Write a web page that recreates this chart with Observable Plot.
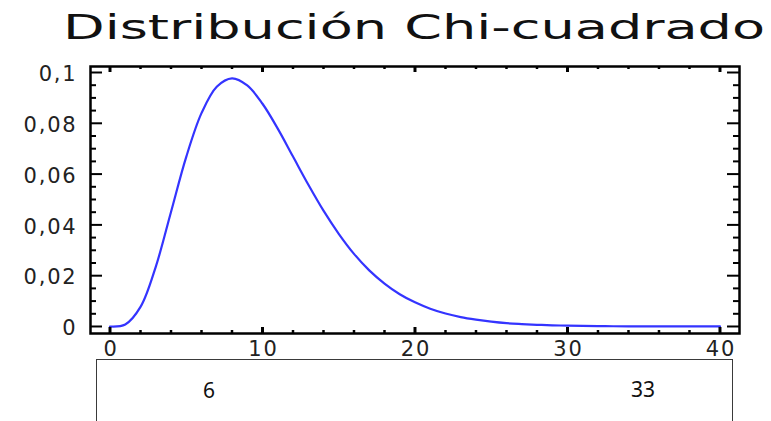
<!DOCTYPE html>
<html>
<head>
<meta charset="utf-8">
<script src="https://cdn.jsdelivr.net/npm/d3@7"></script>
<script src="https://cdn.jsdelivr.net/npm/@observablehq/plot@0.6"></script>
<style>
  html, body { margin: 0; padding: 0; background: #fff; }
  #wrap { position: relative; width: 771px; height: 421px; overflow: hidden; background: #fff; }
  #title { display: block; }
  #box { position: absolute; left: 96px; top: 359px; width: 637px; height: 80px;
         border: 1.5px solid #3a3a3a; border-bottom: none; box-sizing: border-box; }
  .cell { position: absolute; font-family: "Noto Sans", "Open Sans", sans-serif; font-size: 21px;
          color: #111; transform: translate(-50%, -50%); line-height: 1; }
</style>
</head>
<body>
<div id="wrap">
  <svg id="title" width="771" height="60"></svg>
  <div id="chart"></div>
  <div id="box"></div>
</div>
<script>
// ---- data ----
const titleText = "Distribución Chi-cuadrado";
const xValues = [0,1,2,3,4,5,6,7,8,9,10,11,12,13,14,15,16,17,18,19,20,21,22,23,24,25,26,27,28,29,30,31,32,33,34,35,36,37,38,39,40];
const density = [0,0.0008,0.0077,0.0235,0.0451,0.0668,0.0840,0.0944,0.0977,0.0949,0.0877,0.0779,0.0669,0.0559,0.0456,0.0365,0.0286,0.0221,0.0169,0.0127,0.0095,0.0070,0.0051,0.0037,0.0027,0.0019,0.0013,0.00095,0.00067,0.00046,0.00032,0.00022,0.00015,0.0001,0.00007,0.00005,0.00003,0.00002,0.00001,0.00001,0.00001];
const xMajorTicks = [0, 10, 20, 30, 40];
const xMinorTicks = [2,4,6,8,12,14,16,18,22,24,26,28,32,34,36,38];
const yMajorTicks = [0, 0.02, 0.04, 0.06, 0.08, 0.1];
const yMinorTicks = [0.005,0.01,0.015,0.025,0.03,0.035,0.045,0.05,0.055,0.065,0.07,0.075,0.085,0.09,0.095];
const boxLabels = ["6", "33"];

// ---- title ----
const ts = d3.select("#title");
ts.append("text")
  .attr("x", 63).attr("y", 39)
  .attr("textLength", 702).attr("lengthAdjust", "spacingAndGlyphs")
  .attr("font-family", "DejaVu Sans").attr("font-size", 34).attr("fill", "#111")
  .text(titleText);

// ---- chart ----
const xDom = [-1.279, 41.28];
const yDom = [-0.00276, 0.10236];
const pts = xValues.map((x, i) => ({x, y: density[i]}));
const fmt = d => String(d).replace(".", ",");

const kx = 15.25;   // px per x unit (for tick lengths)
const ky = 2540;    // px per y unit

const chart = Plot.plot({
  width: 771,
  height: 361,
  marginLeft: 90,
  marginRight: 32,
  marginTop: 6,
  marginBottom: 88,
  x: {domain: xDom},
  y: {domain: yDom},
  style: {fontFamily: "DejaVu Sans", fontSize: "21px", color: "#111", background: "white", overflow: "visible"},
  marks: [
    Plot.line(pts, {x: "x", y: "y", stroke: "#3434ff", strokeWidth: 2.2, curve: "catmull-rom"}),
    // left / right inward ticks
    Plot.ruleY(yMajorTicks, {y: d => d, x1: xDom[0], x2: xDom[0] + 12 / kx, stroke: "#000", strokeWidth: 2}),
    Plot.ruleY(yMinorTicks, {y: d => d, x1: xDom[0], x2: xDom[0] + 6 / kx, stroke: "#000", strokeWidth: 2}),
    Plot.ruleY(yMajorTicks, {y: d => d, x1: xDom[1], x2: xDom[1] - 12 / kx, stroke: "#000", strokeWidth: 2}),
    Plot.ruleY(yMinorTicks, {y: d => d, x1: xDom[1], x2: xDom[1] - 6 / kx, stroke: "#000", strokeWidth: 2}),
    // bottom / top inward ticks
    Plot.ruleX(xMajorTicks, {x: d => d, y1: yDom[0], y2: yDom[0] + 6 / ky, stroke: "#000", strokeWidth: 3}),
    Plot.ruleX(xMinorTicks, {x: d => d, y1: yDom[0], y2: yDom[0] + 3 / ky, stroke: "#000", strokeWidth: 2.5}),
    Plot.ruleX(xMajorTicks, {x: d => d, y1: yDom[1], y2: yDom[1] - 6 / ky, stroke: "#000", strokeWidth: 3}),
    Plot.ruleX(xMinorTicks, {x: d => d, y1: yDom[1], y2: yDom[1] - 3 / ky, stroke: "#000", strokeWidth: 2.5}),
    Plot.frame({stroke: "#000", strokeWidth: 2.5}),
    Plot.axisX({ticks: xMajorTicks, tickSize: 0, tickPadding: 8, label: null, fontSize: 21, fill: "#222", dx: 1}),
    Plot.axisY({ticks: yMajorTicks, tickSize: 0, tickPadding: 13, tickFormat: fmt, label: null, fontSize: 21, fill: "#222", dy: 2})
  ]
});
document.getElementById("chart").appendChild(chart);
chart.style.display = "block";
// slightly wider letterforms like the reference's tick labels
d3.select(chart).selectAll("g[aria-label$='tick label'] text").attr("letter-spacing", "1.8px");

// ---- lower box ----
const box = d3.select("#box");
const cellPos = [[112, 30], [546, 29]];
box.selectAll("div.cell").data(boxLabels).join("div")
  .attr("class", "cell")
  .style("left", (d, i) => cellPos[i][0] + "px")
  .style("top", (d, i) => cellPos[i][1] + "px")
  .text(d => d);
</script>
</body>
</html>
